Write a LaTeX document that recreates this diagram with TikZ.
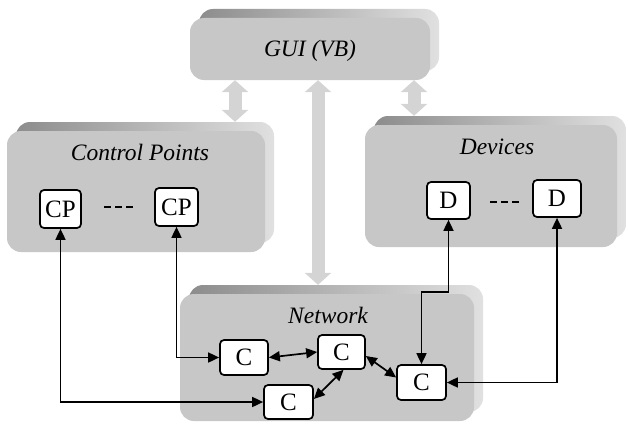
\documentclass[tikz,border=0pt]{standalone}
\usepackage{fontspec}
\setmainfont{Liberation Serif}
\usetikzlibrary{arrows.meta,calc}
\begin{document}
\begin{tikzpicture}[x=1pt,y=-1pt,
 face/.style={rounded corners=14pt, fill=black!22, inner sep=0pt},
 back/.style={rounded corners=14pt, left color=black!45, right color=black!12, inner sep=0pt},
 title/.style={font=\fontsize{23.5}{27}\selectfont\itshape},
 comp/.style={draw=black, line width=1.7pt, fill=white, rounded corners=4pt, font=\fontsize{25}{28}\selectfont, inner sep=0pt},
 link/.style={line width=1.7pt, {Triangle[length=11pt,width=10pt]}-{Triangle[length=11pt,width=10pt]}},
 big/.style={line width=13pt, draw=black!17, {Triangle[length=12pt,width=26pt]}-{Triangle[length=12pt,width=26pt]}},
 dots/.style={line width=1.6pt, dash pattern=on 7pt off 4pt}
]
\useasboundingbox (0,0) rectangle (628,428);
% back (extruded) shapes
\node[back, minimum width=240pt, minimum height=62pt] (guiback) at (319,40) {};
\node[back, minimum width=258pt, minimum height=121pt] (cpback) at (145,182.5) {};
\node[back, minimum width=252pt, minimum height=122pt] (devback) at (500,177) {};
\node[back, minimum width=294pt, minimum height=127pt] (netback) at (336,348.5) {};
% fronts
\node[face, minimum width=240pt, minimum height=62pt] (gui) at (310,49) {};
\node[face, minimum width=258pt, minimum height=121pt] (cpbox) at (136,191.5) {};
\node[face, minimum width=252pt, minimum height=122pt] (devbox) at (491,186) {};
\node[face, minimum width=294pt, minimum height=127pt] (netbox) at (327,357.5) {};
% big grey arrows
\coordinate (ga) at (235,0);
\coordinate (gb) at (318,0);
\coordinate (gc) at (414,0);
\draw[big] (ga |- gui.south) -- (ga |- cpback.north);
\draw[big] (gb |- gui.south) -- (gb |- netback.north);
\draw[big] (gc |- gui.south) -- (gc |- devback.north);
% titles
\node[title] (tgui) at (310,51) {GUI (VB)};
\node[title] (tcp) at (140,152) {Control Points};
\node[title] (tdev) at (497,147) {Devices};
\node[title] (tnet) at (328,315) {Network};
% components
\node[comp, minimum width=41pt, minimum height=38pt] (cp1) at (60.5,209) {CP};
\node[comp, minimum width=43pt, minimum height=38pt] (cp2) at (176.5,207) {CP};
\node[comp, minimum width=43pt, minimum height=37pt] (d1) at (448.5,200.5) {D};
\node[comp, minimum width=48pt, minimum height=37pt] (d2) at (557,198.5) {D};
\node[comp, minimum width=48pt, minimum height=35pt] (c1) at (244,357.5) {C};
\node[comp, minimum width=47pt, minimum height=34pt] (c2) at (341.5,352) {C};
\node[comp, minimum width=49pt, minimum height=34pt] (c3) at (288.5,402) {C};
\node[comp, minimum width=49pt, minimum height=35pt] (c4) at (421.5,382.5) {C};
% dashes
\coordinate (dl1) at (104,207);
\coordinate (dl2) at (133,207);
\coordinate (dr1) at (490,202);
\coordinate (dr2) at (519,202);
\draw[dots] (dl1) -- (dl2);
\draw[dots] (dr1) -- (dr2);
% connectors
\coordinate (j) at (0,292);
\draw[link] (cp1.south) |- (c3.west);
\draw[link] (cp2.south) |- (c1.west);
\draw[link] (d1.south) |- (c4.north |- j) -- (c4.north);
\draw[link] (d2.south) |- (c4.east);
\draw[link] (c1.east) -- (c2.west);
\draw[link] ($(c2.east)+(0,4)$) -- ($(c4.west)+(0,-5)$);
\draw[link] ($(c3.east)+(0,-3)$) -- ($(c2.south)+(2,0)$);
\end{tikzpicture}
\end{document}
